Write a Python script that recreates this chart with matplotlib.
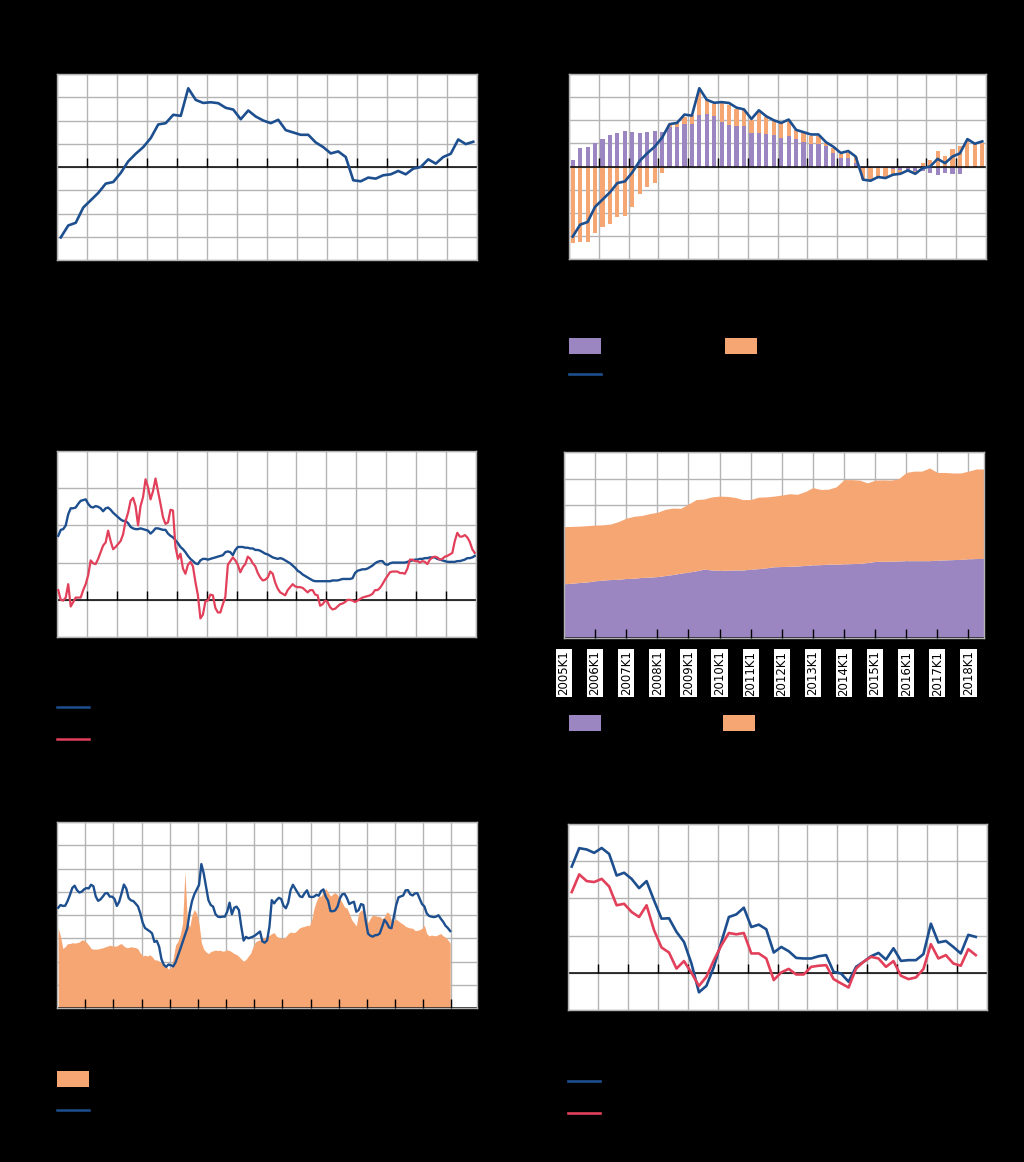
import numpy as np
import matplotlib
matplotlib.use("Agg")
import matplotlib.pyplot as plt
from matplotlib.patches import Patch
from matplotlib.lines import Line2D

# ---------------- data ----------------
# Panel 1/2: quarterly 2005K1-2018K4
credit_gap = [-6.06, -5.03, -4.8, -3.49, -2.86, -2.23, -1.43, -1.29, -0.51, 0.49,
              1.14, 1.71, 2.49, 3.66, 3.77, 4.49, 4.4, 6.77, 5.77, 5.51,
              5.57, 5.49, 5.09, 4.94, 4.11, 4.86, 4.34, 4.0, 3.77, 4.06,
              3.17, 2.97, 2.77, 2.77, 2.11, 1.71, 1.17, 1.34, 0.86, -1.14,
              -1.23, -0.91, -1.0, -0.71, -0.63, -0.34, -0.63, -0.14, 0.0, 0.66,
              0.29, 0.86, 1.14, 2.37, 1.97, 2.17]
contrib_households = [0.57, 1.57, 1.69, 2.06, 2.4, 2.74, 2.94, 3.09, 2.97, 2.86,
                      2.97, 3.09, 2.97, 3.43, 3.43, 3.66, 3.71, 4.43, 4.57, 4.34,
                      3.86, 3.57, 3.49, 3.49, 2.91, 2.91, 2.8, 2.71, 2.43, 2.63,
                      2.34, 2.11, 1.91, 1.91, 1.77, 1.14, 0.71, 0.71, 0.29, -0.1,
                      -0.1, -0.1, -0.15, -0.2, -0.3, -0.3, -0.4, -0.4, -0.6, -0.7,
                      -0.6, -0.63, -0.63, -0.15, -0.06, 0.0]
contrib_nfc = [-6.63, -6.57, -6.51, -5.71, -5.23, -5.0, -4.4, -4.29, -3.51, -2.34,
               -1.8, -1.43, -0.57, 0.2, 0.29, 0.63, 0.71, 2.14, 1.14, 1.09,
               1.66, 1.71, 1.51, 1.37, 1.09, 1.8, 1.49, 1.23, 1.29, 1.31,
               0.8, 0.8, 0.77, 0.71, 0.23, 0.43, 0.37, 0.57, 0.57, -1.04,
               -1.1, -0.8, -0.85, -0.5, -0.3, 0.0, -0.2, 0.3, 0.6, 1.35,
               0.9, 1.5, 1.77, 2.2, 2.0, 2.0]

# Panel 3: monthly 2005-01 .. 2018-12
loans_households = [
    8.6, 9.4, 9.5, 10.0, 11.5, 12.3, 12.3, 12.4, 12.9, 13.3, 13.4, 13.5,
    12.9, 12.5, 12.4, 12.6, 12.5, 12.3, 11.9, 12.3, 12.4, 12.1, 11.7, 11.4,
    11.1, 10.8, 10.6, 10.6, 10.3, 9.8, 9.6, 9.5, 9.5, 9.6, 9.5, 9.4,
    9.3, 8.9, 9.2, 9.6, 9.6, 9.5, 9.4, 9.4, 8.9, 8.6, 8.4, 8.0,
    7.6, 7.1, 6.8, 6.4, 5.9, 5.5, 5.2, 4.9, 4.8, 5.3, 5.5, 5.5,
    5.4, 5.5, 5.6, 5.7, 5.8, 5.9, 6.0, 6.4, 6.5, 6.4, 6.0, 6.7,
    7.1, 7.1, 7.1, 7.0, 7.0, 6.9, 6.9, 6.7, 6.7, 6.6, 6.4, 6.2,
    6.1, 5.9, 5.7, 5.6, 5.5, 5.6, 5.5, 5.3, 5.1, 4.9, 4.6, 4.3,
    3.9, 3.7, 3.4, 3.2, 3.0, 2.8, 2.6, 2.5, 2.5, 2.5, 2.5, 2.5,
    2.5, 2.5, 2.6, 2.6, 2.6, 2.7, 2.8, 2.8, 2.8, 2.8, 2.9, 3.6,
    3.9, 4.0, 4.1, 4.1, 4.2, 4.4, 4.6, 4.9, 5.1, 5.2, 5.2, 4.8,
    4.7, 4.9, 5.0, 5.0, 5.0, 5.0, 5.0, 5.0, 5.1, 5.2, 5.3, 5.4,
    5.4, 5.5, 5.5, 5.6, 5.6, 5.7, 5.7, 5.7, 5.5, 5.4, 5.3, 5.2,
    5.1, 5.1, 5.1, 5.1, 5.2, 5.2, 5.3, 5.4, 5.6, 5.6, 5.7, 5.9]
loans_nfc = [
    1.3, 0.0, -0.1, 0.3, 2.1, -0.9, -0.3, 0.3, 0.3, 0.3, 1.3, 2.1,
    3.3, 5.3, 4.9, 4.8, 5.5, 6.4, 7.3, 7.7, 9.3, 7.9, 6.8, 7.1,
    7.5, 7.9, 8.8, 10.6, 11.7, 13.3, 13.7, 12.6, 10.0, 12.6, 13.8, 16.2,
    15.1, 13.5, 14.6, 16.3, 14.6, 12.9, 11.1, 10.2, 10.4, 12.1, 12.0, 7.1,
    5.5, 6.2, 4.2, 3.5, 4.7, 5.1, 4.5, 2.4, 0.6, -2.5, -2.0, -0.2,
    -0.1, 0.7, 0.6, -1.1, -1.7, -1.7, -0.6, 0.4, 4.7, 5.2, 5.7, 5.3,
    4.7, 3.7, 4.4, 4.8, 5.8, 5.5, 4.9, 4.5, 3.6, 3.0, 2.6, 2.7,
    3.0, 3.8, 3.5, 2.3, 1.5, 1.0, 0.8, 0.6, 1.3, 1.7, 2.1, 1.8,
    1.7, 1.7, 1.6, 1.3, 1.0, 1.3, 1.3, 0.7, 0.6, -0.8, -0.6, -0.1,
    -0.3, -1.0, -1.3, -1.2, -0.9, -0.6, -0.5, -0.3, 0.0, 0.0, -0.1, -0.3,
    -0.1, 0.1, 0.3, 0.4, 0.5, 0.6, 0.8, 1.3, 1.3, 1.6, 2.1, 2.7,
    3.2, 3.7, 3.8, 3.8, 3.8, 3.6, 3.6, 3.5, 4.2, 5.4, 5.4, 5.2,
    5.2, 5.0, 5.2, 5.1, 4.8, 5.4, 5.7, 5.8, 5.7, 5.4, 5.5, 5.8,
    5.9, 6.1, 6.3, 7.9, 9.0, 8.5, 8.5, 8.7, 8.4, 7.8, 6.8, 6.3]

# Panel 4: quarterly 2005K1 .. 2018K3
debt_quarters = [f"{y}K{q}" for y in range(2005, 2019) for q in range(1, 5)][:55]
debt_households = [204, 206, 209, 211, 215, 218, 220, 221, 224, 225,
                   228, 229, 231, 235, 239, 244, 248, 253, 259, 256,
                   255, 255, 256, 256, 259, 261, 264, 268, 269, 270,
                   271, 273, 275, 276, 278, 278, 279, 280, 281, 284,
                   288, 289, 289, 290, 291, 291, 291, 291, 293, 294,
                   295, 296, 298, 299, 300]
debt_nfc = [215, 214, 212, 212, 210, 208, 209, 217, 227, 233,
            233, 239, 242, 249, 250, 244, 256, 268, 264, 275,
            279, 278, 273, 265, 262, 269, 267, 266, 269, 273,
            270, 278, 291, 283, 282, 291, 317, 316, 313, 300,
            306, 306, 305, 309, 332, 337, 337, 349, 330, 329,
            326, 325, 330, 337, 336]
debt_ticklabels = [f"{y}K1" for y in range(2005, 2019)]

# Panel 5: monthly 2004-01 .. 2017-12
margin = [
    34.3, 30.7, 25.6, 26.4, 27.7, 27.7, 28.1, 27.9, 28.1, 28.4, 29.3, 29.1,
    28.3, 27.1, 25.6, 25.3, 25.3, 25.4, 25.7, 25.9, 26.3, 26.6, 27.0, 26.7,
    26.6, 26.7, 27.4, 27.7, 26.6, 26.0, 26.0, 26.4, 26.1, 26.0, 25.4, 23.6,
    22.4, 22.7, 22.3, 22.9, 22.1, 20.7, 20.7, 20.1, 19.3, 18.6, 18.0, 16.7,
    17.3, 21.4, 27.1, 28.6, 31.6, 36.4, 58.6, 37.9, 34.7, 39.9, 42.3, 40.7,
    36.4, 28.1, 25.3, 24.1, 23.4, 24.3, 24.6, 24.9, 24.7, 24.9, 24.4, 24.6,
    25.0, 24.7, 24.1, 23.4, 23.0, 22.1, 21.1, 20.1, 20.9, 22.3, 23.6, 26.4,
    28.4, 29.0, 29.3, 30.0, 30.3, 30.9, 31.3, 32.0, 32.4, 30.9, 30.3, 30.0,
    30.0, 30.7, 32.0, 32.7, 32.4, 32.6, 33.6, 34.6, 34.9, 35.1, 35.6, 35.4,
    37.9, 42.9, 46.0, 48.1, 48.1, 50.1, 51.4, 49.7, 48.1, 49.0, 49.7, 48.6,
    47.1, 45.3, 43.4, 43.0, 40.7, 38.0, 36.6, 35.3, 40.7, 42.1, 41.9, 39.0,
    36.7, 38.7, 40.0, 39.7, 39.4, 39.3, 38.4, 39.3, 41.3, 40.7, 37.7, 37.6,
    38.1, 37.4, 36.6, 36.0, 35.1, 34.7, 34.4, 34.3, 33.3, 33.4, 33.7, 34.3,
    35.6, 32.0, 31.0, 31.4, 31.1, 31.1, 31.6, 32.0, 31.0, 30.4, 29.3, 27.9]
spread = [
    43.1, 44.3, 43.9, 44.0, 46.0, 48.6, 51.6, 52.6, 50.7, 49.7, 50.0, 51.0,
    51.6, 51.4, 53.0, 52.4, 48.0, 46.1, 46.7, 47.9, 49.3, 49.4, 47.9, 47.9,
    46.9, 43.9, 45.7, 49.3, 53.1, 51.4, 47.3, 46.3, 46.0, 44.9, 43.7, 40.7,
    36.7, 34.4, 33.7, 33.0, 32.1, 28.4, 28.9, 26.4, 21.0, 18.6, 17.7, 18.7,
    18.4, 17.9, 19.6, 22.4, 25.3, 28.3, 31.4, 34.3, 41.0, 45.9, 48.9, 50.9,
    52.9, 61.9, 57.9, 52.1, 46.4, 44.3, 43.6, 40.4, 39.3, 39.1, 39.3, 39.3,
    41.4, 45.3, 40.3, 43.1, 43.6, 42.1, 35.0, 29.0, 30.6, 30.0, 30.3, 30.7,
    31.3, 32.1, 32.9, 28.6, 28.1, 29.1, 35.0, 46.4, 45.0, 46.4, 47.4, 46.9,
    44.0, 42.9, 45.3, 50.7, 53.0, 51.3, 49.6, 48.0, 47.7, 49.4, 50.6, 47.9,
    47.7, 47.9, 48.7, 48.3, 50.3, 51.0, 47.9, 46.1, 41.7, 41.6, 42.0, 43.6,
    47.1, 48.9, 49.1, 47.3, 44.7, 45.3, 45.7, 41.4, 42.1, 44.7, 44.3, 37.6,
    32.0, 31.1, 30.7, 31.3, 31.4, 32.1, 34.9, 37.9, 36.6, 34.6, 34.3, 39.3,
    44.3, 47.6, 48.0, 48.4, 50.6, 50.7, 48.9, 48.4, 49.3, 49.4, 47.1, 44.7,
    43.7, 40.7, 39.6, 39.3, 39.1, 39.3, 39.9, 38.4, 37.1, 35.4, 34.4, 33.1]

# Panel 6: quarterly 2005K1 .. 2018K3
prices_nominal = [5.71, 6.70, 6.63, 6.45, 6.71, 6.39, 5.23, 5.38, 5.05, 4.55,
                  4.93, 3.89, 2.91, 2.93, 2.20, 1.66, 0.50, -1.05, -0.70, 0.32,
                  1.66, 3.0, 3.14, 3.5, 2.46, 2.59, 2.34, 1.09, 1.39, 1.16,
                  0.80, 0.77, 0.77, 0.89, 0.95, 0.05, -0.04, -0.48, 0.32, 0.59,
                  0.89, 1.07, 0.71, 1.32, 0.64, 0.68, 0.68, 1.0, 2.64, 1.63,
                  1.71, 1.39, 1.04, 2.04, 1.93]
prices_real = [4.34, 5.29, 4.93, 4.88, 5.05, 4.64, 3.63, 3.71, 3.27, 3.0,
               3.63, 2.29, 1.36, 1.09, 0.23, 0.63, 0.0, -0.71, -0.21, 0.68,
               1.48, 2.14, 2.07, 2.14, 1.04, 1.04, 0.77, -0.39, 0.02, 0.21,
               -0.09, -0.09, 0.32, 0.38, 0.41, -0.34, -0.57, -0.79, 0.23, 0.59,
               0.86, 0.77, 0.32, 0.63, -0.16, -0.34, -0.25, 0.2, 1.54, 0.77,
               0.95, 0.5, 0.38, 1.27, 0.95]

titles = [
    ("Kredietgap totaal", "(procentpunten bbp, afwijking t.o.v. trend)"),
    ("Bijdragen aan de kredietgap per institutionele sector", "(procentpunten bbp, bijdrage per sector)"),
    ("Groei van de kredietverlening", "(jaarlijkse groei in %, bancaire leningen)"),
    ("Schuld van de huishoudens en niet-financiële vennootschappen", "(in % van het bbp, eind periode)"),
    ("Renteverschillen", "(maandgemiddelden, in basispunten)"),
    ("Woningprijzen", "(jaarlijkse procentuele verandering, kwartaaldata)"),
]

# ---------------- style ----------------
W, H = 1024, 1162
BLUE = "#1d4f8f"
RED = "#e2405a"
PURPLE = "#9b86c1"
ORANGE = "#f5a673"
GRID = "#b4b4b4"
TXT = "black"

plt.rcParams["font.family"] = ["DejaVu Sans"]
fig = plt.figure(figsize=(W / 100, H / 100), dpi=100, facecolor="black")


def make_ax(l, t, w, h):
    return fig.add_axes([l / W, 1 - (t + h) / H, w / W, h / H])


def style(ax, xlim, ylim, ystep, xgrid):
    ax.set_facecolor("white")
    ax.set_xlim(*xlim)
    ax.set_ylim(*ylim)
    ax.set_yticks(np.arange(ylim[0], ylim[1] + ystep / 2, ystep))
    ax.set_xticks(xgrid)
    ax.grid(True, color=GRID, lw=1.0)
    ax.set_axisbelow(True)
    for sp in ax.spines.values():
        sp.set_color(GRID)
        sp.set_linewidth(1.0)
    ax.tick_params(axis="y", length=0, labelcolor=TXT, labelsize=8)
    ax.tick_params(axis="x", length=0, labelbottom=False)


def zero_line(ax, ticks, base=0.0):
    ax.axhline(base, color="black", lw=1.1, zorder=2.5)
    ax.plot(ticks, np.full(len(ticks), base), ls="none", marker=2, ms=6.5, mew=1.0,
            color="black", zorder=2.6, clip_on=False)


def q_pos(n, start=2005, offset=0.5):
    return np.array([start + (i + offset) / 4 for i in range(n)])


def m_pos(n, start):
    return np.array([start + (i + 0.5) / 12 for i in range(n)])


def add_legend(handle, label, x, y, hh=1.6):
    fig.legend([handle], [label], loc="center left",
               bbox_to_anchor=(x / W, 1 - y / H), bbox_transform=fig.transFigure,
               frameon=False, borderpad=0, borderaxespad=0,
               handlelength=2.55, handleheight=hh, handletextpad=1.1,
               fontsize=9, labelcolor=TXT)


def add_title(i, x, y):
    t, s = titles[i]
    fig.text(x / W, 1 - y / H, t, color=TXT, fontsize=10, va="center", ha="left")
    fig.text(x / W, 1 - (y + 19) / H, s, color=TXT, fontsize=9, va="center", ha="left")


years_q = list(range(2005, 2020))
inner = list(range(2006, 2019))

# ---- Panel 1 ----
ax1 = make_ax(57, 74, 420, 186)
style(ax1, (2005, 2019), (-8, 8), 2, years_q)
x1 = q_pos(len(credit_gap))
zero_line(ax1, inner)
ax1.plot(x1, credit_gap, color=BLUE, lw=1.9, zorder=3)
add_title(0, 57, 34)

# ---- Panel 2 ----
ax2 = make_ax(569, 74, 417, 185)
style(ax2, (2005, 2019), (-8, 8), 2, years_q)
x2 = q_pos(len(credit_gap))
hh_c = np.array(contrib_households)
nfc_c = np.array(contrib_nfc)
ax2.bar(x2, hh_c, width=0.14, color=PURPLE, zorder=2)
bottom_nfc = np.where(np.sign(nfc_c) == np.sign(hh_c), hh_c, 0.0)
ax2.bar(x2, nfc_c, width=0.14, bottom=bottom_nfc, color=ORANGE, zorder=2)
zero_line(ax2, inner)
ax2.plot(x2, credit_gap, color=BLUE, lw=1.9, zorder=3)
add_title(1, 566, 35)
add_legend(Patch(facecolor=PURPLE), "Huishoudens", 569, 346)
add_legend(Patch(facecolor=ORANGE), "Niet-financiële vennootschappen", 725, 346)
add_legend(Line2D([], [], color=BLUE, lw=1.9), "Kredietgap totaal", 569, 376)

# ---- Panel 3 ----
ax3 = make_ax(57, 451, 419, 186)
style(ax3, (2005, 2019), (-5, 20), 5, years_q)
x3 = m_pos(len(loans_households), 2005)
zero_line(ax3, inner)
ax3.plot(x3, loans_households, color=BLUE, lw=1.7, zorder=3)
ax3.plot(x3, loans_nfc, color=RED, lw=1.6, zorder=3)
add_title(2, 57, 415)
add_legend(Line2D([], [], color=BLUE, lw=1.8), "Leningen aan huishoudens", 57, 709)
add_legend(Line2D([], [], color=RED, lw=1.8), "Leningen aan niet-financiële vennootschappen", 57, 741)

# ---- Panel 4 ----
ax4 = make_ax(564, 452, 420, 186)
style(ax4, (2005, 2018.5), (0, 700), 100, list(range(2005, 2019)))
x4 = q_pos(len(debt_quarters), offset=0.0)
hh_d = np.array(debt_households)
nfc_d = np.array(debt_nfc)
ax4.fill_between(x4, 0, hh_d, color=PURPLE, lw=0, zorder=2)
ax4.fill_between(x4, hh_d, hh_d + nfc_d, color=ORANGE, lw=0, zorder=2)
zero_line(ax4, list(range(2006, 2019)))
ax4.set_xticklabels(debt_ticklabels)
ax4.tick_params(axis="x", length=0, labelbottom=True, labelrotation=90,
                labelsize=8.5, labelcolor=TXT, pad=9)
for lbl in ax4.get_xticklabels():
    lbl.set_bbox(dict(facecolor="white", edgecolor="none", pad=1.2))
add_title(3, 566, 415)
add_legend(Patch(facecolor=PURPLE), "Huishoudens", 569, 723)
add_legend(Patch(facecolor=ORANGE), "Niet-financiële vennootschappen", 723, 723)

# ---- Panel 5 ----
ax5 = make_ax(57, 822, 420, 186)
style(ax5, (2004, 2018.91), (0, 80), 10, list(range(2005, 2019)))
x5 = m_pos(len(margin), 2004)
ax5.fill_between(x5, 0, margin, color=ORANGE, lw=0, zorder=2)
zero_line(ax5, list(range(2005, 2019)))
ax5.plot(x5, spread, color=BLUE, lw=1.7, zorder=3)
add_title(4, 57, 785)
add_legend(Patch(facecolor=ORANGE), "Marge op nieuwe leningen aan bedrijven", 57, 1079)
add_legend(Line2D([], [], color=BLUE, lw=1.8),
           "Spread tussen bedrijfsleningen en de risicovrije rente (5 jaar)", 57, 1112)

# ---- Panel 6 ----
ax6 = make_ax(568, 824, 419, 186)
style(ax6, (2005, 2019), (-2, 8), 2, years_q)
x6 = q_pos(len(prices_nominal))
zero_line(ax6, inner)
ax6.plot(x6, prices_nominal, color=BLUE, lw=1.9, zorder=3)
ax6.plot(x6, prices_real, color=RED, lw=1.9, zorder=3)
add_title(5, 566, 785)
add_legend(Line2D([], [], color=BLUE, lw=1.9), "Nominale woningprijzen", 568, 1083)
add_legend(Line2D([], [], color=RED, lw=1.9), "Reële woningprijzen", 568, 1115)

fig.savefig("out.png", dpi=100, facecolor="black")
